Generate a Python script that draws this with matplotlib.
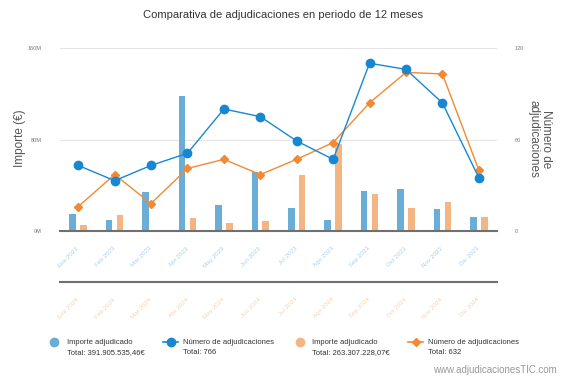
import numpy as np
import matplotlib
matplotlib.use("Agg")
import matplotlib.pyplot as plt
from matplotlib.lines import Line2D

plt.rcParams['font.family'] = ['Liberation Sans', 'DejaVu Sans']

meses = ['Ene', 'Feb', 'Mar', 'Abr', 'May', 'Jun', 'Jul', 'Ago', 'Sep', 'Oct', 'Nov', 'Dic']
labels_2023 = [m + ' 2023' for m in meses]
labels_2024 = [m + ' 2024' for m in meses]

# importe adjudicado (millones de euros)
importe_2023 = [15, 10, 34, 118, 23, 52, 20, 10, 35, 37, 19, 12]
importe_2024 = [5, 14, 1, 11, 7, 9, 49, 76, 32, 20, 25, 12]

# numero de adjudicaciones
num_2023 = [43, 33, 43, 51, 80, 75, 59, 47, 110, 106, 84, 35]
num_2024 = [16, 37, 18, 41, 47, 37, 47, 58, 84, 104, 103, 40]

total_importe_2023 = 'Total: 391.905.535,46€'
total_importe_2024 = 'Total: 263.307.228,07€'
total_num_2023 = 'Total: 766'
total_num_2024 = 'Total: 632'

bar_blue = '#6aaed8'
bar_orange = '#f3b584'
line_blue = '#1887d2'
line_orange = '#f28a34'
W, H = 566, 378

fig = plt.figure(figsize=(W / 100, H / 100), dpi=100)
ax = fig.add_axes([60 / W, 1 - 231 / H, 437 / W, 183 / H])

x = np.arange(len(meses))
ax.bar(x - 0.15, importe_2023, width=0.18, color=bar_blue, zorder=2)
ax.bar(x + 0.15, importe_2024, width=0.18, color=bar_orange, zorder=2)
ax.set_xlim(-0.5, 11.5)
ax.set_ylim(0, 160)
ax.set_yticks([0, 80, 160], ['0M', '80M', '160M'])
ax.grid(axis='y', color='#e4e4e4', lw=0.8, zorder=0)
ax.set_axisbelow(True)
for s in ['top', 'left', 'right']:
    ax.spines[s].set_visible(False)
ax.spines['bottom'].set_color('#707070')
ax.spines['bottom'].set_linewidth(1.5)
ax.spines['bottom'].set_zorder(5)
ax.tick_params(axis='y', length=0, labelsize=4, labelcolor='#777777', pad=13)
ax.set_xticks(x)
ax.set_xticklabels(labels_2023, rotation=45, ha='right', va='center',
                   rotation_mode='anchor', fontsize=4.5, color='#a9d0ea')
ax.tick_params(axis='x', length=0, pad=12)

sec = ax.secondary_xaxis(-0.279)
sec.set_xticks(x)
sec.set_xticklabels(labels_2024, rotation=45, ha='right', va='center',
                    rotation_mode='anchor', fontsize=4.5, color='#f6d2b2')
sec.tick_params(length=0, pad=12)
sec.spines['bottom'].set_color('#707070')
sec.spines['bottom'].set_linewidth(1.5)

ax2 = ax.twinx()
ax2.plot(x, num_2023, color=line_blue, marker='o', ms=6, lw=1, zorder=4)
ax2.plot(x, num_2024, color=line_orange, marker='D', ms=4, lw=1, zorder=3)
ax2.set_ylim(0, 120)
ax2.set_yticks([0, 60, 120])
ax2.tick_params(axis='y', length=0, labelsize=4, labelcolor='#777777', pad=13)
for s in ax2.spines.values():
    s.set_visible(False)

fig.text(283 / W, 1 - 15 / H, 'Comparativa de adjudicaciones en periodo de 12 meses',
         ha='center', va='center', fontsize=8, color='#333333')
fig.text(20 / W, 1 - 138 / H, 'Importe (€)', rotation=90, ha='center', va='center',
         fontsize=8.5, color='#555555')
fig.text(540 / W, 1 - 139 / H, 'Número de\nadjudicaciones', rotation=270, ha='center',
         va='center', fontsize=8.5, color='#555555', linespacing=1.0)

# leyenda
def fx(px):
    return px / W

def fy(py):
    return 1 - py / H

fig.add_artist(Line2D([fx(54)], [fy(342)], marker='o', ms=6, color=bar_blue, lw=0))
fig.add_artist(Line2D([fx(163), fx(178)], [fy(342), fy(342)], color=line_blue, lw=1.2))
fig.add_artist(Line2D([fx(170.5)], [fy(342)], marker='o', ms=6, color=line_blue, lw=0))
fig.add_artist(Line2D([fx(300)], [fy(342)], marker='o', ms=6, color=bar_orange, lw=0))
fig.add_artist(Line2D([fx(408), fx(423)], [fy(342), fy(342)], color=line_orange, lw=1.2))
fig.add_artist(Line2D([fx(415.5)], [fy(342)], marker='D', ms=4, color=line_orange, lw=0))

legend_items = [
    (67, 'Importe adjudicado', total_importe_2023),
    (183, 'Número de adjudicaciones', total_num_2023),
    (312, 'Importe adjudicado', total_importe_2024),
    (428, 'Número de adjudicaciones', total_num_2024),
]
for px, name, total in legend_items:
    fig.text(fx(px), fy(343), name, ha='left', va='center', fontsize=5.5, color='#333333')
    fig.text(fx(px), fy(353), total, ha='left', va='center', fontsize=5.5, color='#333333')

fig.text(fx(557), fy(370), 'www.adjudicacionesTIC.com', ha='right', va='center',
         fontsize=7, color='#999999')

fig.savefig('out.png', dpi=100)
